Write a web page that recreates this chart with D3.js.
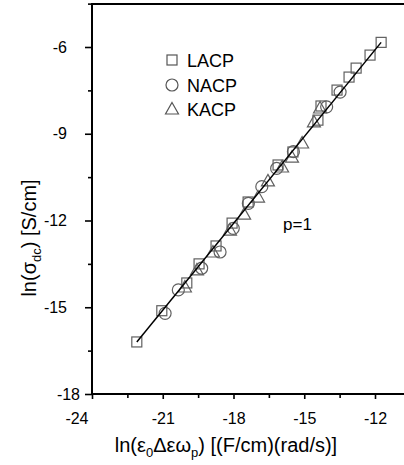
<!DOCTYPE html>
<html><head><meta charset="utf-8">
<script src="https://cdn.jsdelivr.net/npm/d3@7"></script>
<style>
body{margin:0;background:#fff;}
text{font-family:"Liberation Sans",Arial,Helvetica,sans-serif;fill:#000;}
</style></head>
<body><svg id="c" width="404" height="465"></svg>
<script>
// ---- data ----
const lacpX = [-22.10,-21.04,-19.98,-19.46,-18.74,-18.06,-17.38,-16.11,-15.48,-14.42,-14.29,-13.61,-13.10,-12.80,-12.21,-11.74];
const lacpY = [-16.20,-15.12,-14.16,-13.50,-12.88,-12.09,-11.36,-10.08,-9.63,-8.53,-8.04,-7.49,-7.04,-6.73,-6.28,-5.84];
const nacpX = [-20.90,-20.34,-19.35,-18.57,-18.01,-17.37,-16.80,-16.17,-15.46,-14.05,-13.48];
const nacpY = [-15.21,-14.40,-13.65,-13.09,-12.27,-11.41,-10.83,-10.20,-9.62,-8.07,-7.56];
const kacpX = [-20.06,-19.55,-18.87,-18.15,-17.55,-16.96,-16.54,-15.94,-15.52,-15.09,-14.59,-14.33];
const kacpY = [-14.30,-13.71,-13.09,-12.33,-11.78,-11.19,-10.63,-10.15,-9.81,-9.32,-8.59,-8.11];
const fitX = [-22.10,-11.74];
const fitY = [-16.20,-5.84];
const seriesNames = ["LACP","NACP","KACP"];
const xMajor = [-24,-21,-18,-15,-12];
const xMinor = [-22.5,-19.5,-16.5,-13.5,-10.5];
const yMajor = [-18,-15,-12,-9,-6];
const yMinor = [-16.5,-13.5,-10.5,-7.5,-4.5];
const annotation = "p=1";

// ---- layout ----
const svg = d3.select("#c");
const L = 92, T = 4, B = 394;
const x = d3.scaleLinear().domain([-24,-12]).range([L, L + 283]);
const y = d3.scaleLinear().domain([-18,-6]).range([B, 47]);
const xRight = 410;
const grey = "#606060";
const fmt = d => String(d);

const g = svg.append("g");

// markers
function sq(sel){ sel.append("rect").attr("width",10).attr("height",10).attr("x",-5).attr("y",-5)
  .attr("fill","none").attr("stroke",grey).attr("stroke-width",1.2); }
function ci(sel){ sel.append("circle").attr("r",6).attr("fill","none").attr("stroke",grey).attr("stroke-width",1.2); }
function tri(sel){ sel.append("path").attr("d","M0,-6.5L6.5,5L-6.5,5Z").attr("fill","none").attr("stroke",grey).attr("stroke-width",1.2); }

const pts = g.append("g");
pts.selectAll(".l").data(d3.zip(lacpX,lacpY)).join("g").attr("transform",d=>`translate(${x(d[0])},${y(d[1])})`).call(sq);
pts.selectAll(".n").data(d3.zip(nacpX,nacpY)).join("g").attr("transform",d=>`translate(${x(d[0])},${y(d[1])})`).call(ci);
pts.selectAll(".k").data(d3.zip(kacpX,kacpY)).join("g").attr("transform",d=>`translate(${x(d[0])},${y(d[1])})`).call(tri);

// fit line
g.append("path").datum(d3.zip(fitX,fitY))
  .attr("d", d3.line().x(d=>x(d[0])).y(d=>y(d[1])))
  .attr("stroke","#000").attr("stroke-width",1.5).attr("fill","none");

// axes
const axW = 2;
const yAxis = g.append("g").attr("transform",`translate(${L},0)`)
  .call(d3.axisLeft(y).tickValues(yMajor).tickSize(7).tickPadding(18).tickFormat(fmt));
g.append("g").attr("transform",`translate(${L},0)`)
  .call(d3.axisLeft(y).tickValues(yMinor).tickSize(4).tickFormat(""))
  .call(s=>s.select(".domain").remove());
const xAxis = g.append("g").attr("transform",`translate(0,${B})`)
  .call(d3.axisBottom(x).tickValues(xMajor).tickSize(5).tickPadding(14).tickFormat(fmt));
g.append("g").attr("transform",`translate(0,${B})`)
  .call(d3.axisBottom(x).tickValues(xMinor).tickSize(4).tickFormat(""))
  .call(s=>s.select(".domain").remove());
g.selectAll(".domain").remove();
g.selectAll(".tick line").attr("stroke","#000").attr("stroke-width",1.6);
g.selectAll(".tick text").style("font-size","16px").style("font-family",'"Liberation Sans",Arial,sans-serif');
yAxis.selectAll(".tick text").filter(d=>d===yMajor[0]).attr("x",-12);
xAxis.selectAll(".tick text").filter(d=>d===xMajor[0]).attr("text-anchor","end").attr("x",-4);

// spines
g.append("line").attr("x1",L).attr("x2",L).attr("y1",T).attr("y2",B+1).attr("stroke","#000").attr("stroke-width",axW);
g.append("line").attr("x1",L-1).attr("x2",xRight).attr("y1",B).attr("y2",B).attr("stroke","#000").attr("stroke-width",axW);
g.append("line").attr("x1",L-1).attr("x2",xRight).attr("y1",T).attr("y2",T).attr("stroke","#000").attr("stroke-width",axW);

// legend
const leg = g.append("g");
const legY = [60,85,109];
const shapes = [sq,ci,tri];
seriesNames.forEach((n,i)=>{
  const r = leg.append("g").attr("transform",`translate(172,${legY[i]})`);
  shapes[i](r);
  r.select("*").attr("stroke","#555");
  r.append("text").attr("x",15).attr("y",6.5).style("font-size","18px").text(n);
});

// annotation
g.append("text").attr("x",283).attr("y",230).style("font-size","17px").text(annotation);

// axis titles
const xt = g.append("text").attr("x",226).attr("y",452).attr("text-anchor","middle").style("font-size","20px");
xt.append("tspan").text("ln(ε");
xt.append("tspan").attr("dy",5).style("font-size","13px").text("0");
xt.append("tspan").attr("dy",-5).text("Δεω");
xt.append("tspan").attr("dy",5).style("font-size","13px").text("p");
xt.append("tspan").attr("dy",-5).text(") [(F/cm)(rad/s)]");

const yt = g.append("text").attr("transform","translate(36,238) rotate(-90)").attr("text-anchor","middle").style("font-size","20px");
yt.append("tspan").text("ln(σ");
yt.append("tspan").attr("dy",5).style("font-size","13px").text("dc");
yt.append("tspan").attr("dy",-5).text(") [S/cm]");
</script></body></html>
